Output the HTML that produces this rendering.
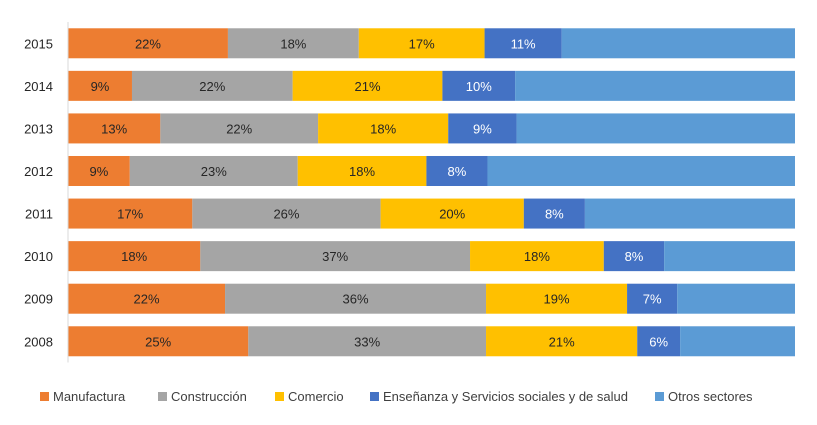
<!DOCTYPE html>
<html><head><meta charset="utf-8"><style>
body{margin:0;background:#fff;font-family:"Liberation Sans",sans-serif}
svg text{font-family:"Liberation Sans",sans-serif}
</style></head><body>
<svg id="chart" width="817" height="420"></svg>
<script>
const years=["2015","2014","2013","2012","2011","2010","2009","2008"];
const manufactura=[22.0,8.8,12.7,8.5,17.1,18.2,21.6,24.8];
const construccion=[18.0,22.1,21.7,23.1,25.9,37.1,35.9,32.7];
const comercio=[17.3,20.6,17.9,17.7,19.7,18.4,19.4,20.8];
const ensenanza=[10.6,10.0,9.4,8.4,8.4,8.3,6.9,5.9];
const seriesNames=["Manufactura","Construcción","Comercio","Enseñanza  y Servicios sociales y de salud","Otros sectores"];
const colors=["#ED7D31","#A5A5A5","#FFC000","#4472C4","#5B9BD5"];
const svg=document.getElementById('chart');
const NS="http://www.w3.org/2000/svg";
const x0=68,x1=795,yTop=22,band=42.57,barH=30;
const xs=v=>x0+(x1-x0)*v/100;
const yc=i=>yTop+band*i+band/2;
function mk(t,a){const e=document.createElementNS(NS,t);for(const k in a)e.setAttribute(k,a[k]);svg.appendChild(e);return e;}
years.forEach((yr,i)=>{
  const vals=[manufactura[i],construccion[i],comercio[i],ensenanza[i]];
  vals.push(100-vals.reduce((a,b)=>a+b,0));
  let acc=0;
  vals.forEach((v,s)=>{
    const r=mk('rect',{x:xs(acc),y:yc(i)-barH/2,width:xs(acc+v)-xs(acc),height:barH,fill:colors[s]});
    
    
    if(s<4){
      const t=mk('text',{x:xs(acc+v/2),y:yc(i)+5,'text-anchor':'middle','font-size':13,fill:s==3?'#fff':'#262626'});
      t.textContent=Math.round(v)+'%';
      
      
    }
    acc+=v;
  });
  const l=mk('text',{x:53,y:yc(i)+5,'text-anchor':'end','font-size':13,fill:'#262626'});
  l.textContent=yr;
  
  
});
const ax=mk('line',{x1:x0,y1:yTop,x2:x0,y2:yTop+band*8,stroke:'#d9d9d9'});


const legX=[40,158,275,370,655];
seriesNames.forEach((n,s)=>{
  const g=document.createElementNS(NS,'g');svg.appendChild(g);
  
  
  const r=document.createElementNS(NS,'rect');
  r.setAttribute('x',legX[s]);r.setAttribute('y',392);r.setAttribute('width',9);r.setAttribute('height',9);r.setAttribute('fill',colors[s]);g.appendChild(r);
  const t=document.createElementNS(NS,'text');
  t.setAttribute('x',legX[s]+13);t.setAttribute('y',401);t.setAttribute('font-size',13);t.setAttribute('fill','#404040');
  t.textContent=n;g.appendChild(t);
});
</script>
</body></html>
